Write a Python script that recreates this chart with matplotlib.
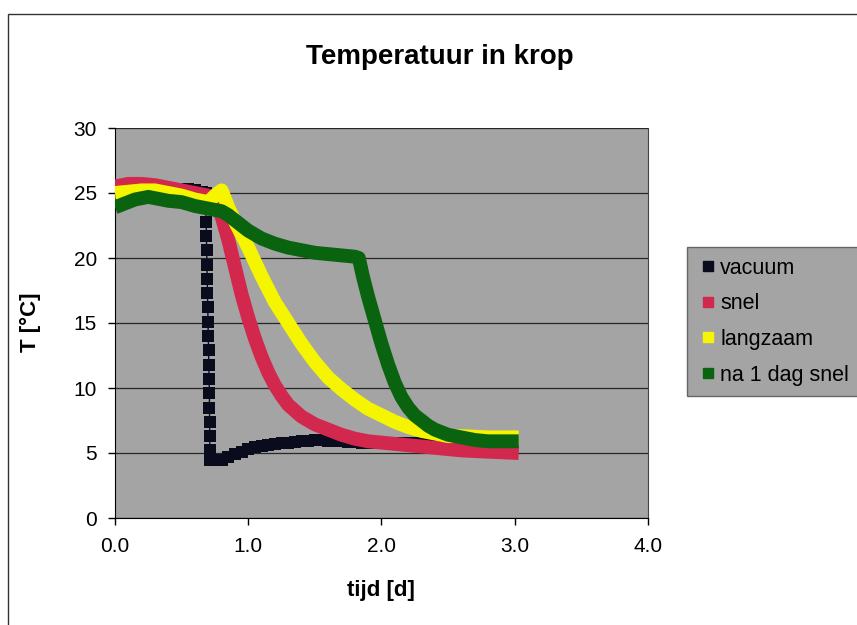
import matplotlib
matplotlib.use("Agg")
import matplotlib.pyplot as plt
from matplotlib.patches import Rectangle
from matplotlib.lines import Line2D

plt.rcParams['font.family'] = ['Liberation Sans', 'DejaVu Sans']

# tijd [d] en temperatuur [C] per behandeling
vac_t = [0.0, 0.05, 0.1, 0.15, 0.2, 0.25, 0.3, 0.35, 0.4, 0.45, 0.5, 0.55,
         0.6, 0.65, 0.68, 0.682, 0.684, 0.686, 0.688, 0.69, 0.692, 0.694,
         0.696, 0.698, 0.7, 0.702, 0.704, 0.706, 0.708, 0.709, 0.71, 0.711,
         0.712, 0.713, 0.75, 0.8, 0.85, 0.9, 0.95, 1.0, 1.05, 1.1, 1.15, 1.2,
         1.25, 1.3, 1.35, 1.4, 1.45, 1.5, 1.55, 1.6, 1.65, 1.7, 1.75, 1.8,
         1.85, 1.9, 1.95, 2.0, 2.05, 2.1, 2.15, 2.2, 2.25, 2.3, 2.35, 2.4,
         2.45, 2.5]
vac_T = [24.5, 25.0, 25.3, 25.4, 25.4, 25.4, 25.4, 25.3, 25.3, 25.2, 25.2,
         25.3, 25.2, 25.1, 25.0, 23.9, 22.8, 21.7, 20.6, 19.5, 18.4, 17.3,
         16.2, 15.1, 14.0, 12.9, 11.8, 10.7, 9.6, 8.5, 7.4, 6.3, 5.2, 4.5,
         4.5, 4.5, 4.7, 4.9, 5.1, 5.3, 5.45, 5.55, 5.65, 5.7, 5.75, 5.8,
         5.85, 5.9, 5.95, 6.0, 6.0, 5.95, 5.9, 5.9, 5.85, 5.85, 5.8, 5.8,
         5.8, 5.8, 5.8, 5.8, 5.8, 5.8, 5.8, 5.8, 5.75, 5.75, 5.7, 5.7]

snel_t = [0.0, 0.1, 0.2, 0.3, 0.4, 0.5, 0.6, 0.7, 0.75, 0.8, 0.85, 0.9, 0.95,
          1.0, 1.05, 1.1, 1.15, 1.2, 1.25, 1.3, 1.4, 1.5, 1.6, 1.7, 1.8,
          1.9, 2.0, 2.2, 2.4, 2.6, 2.8, 3.03]
snel_T = [25.5, 25.7, 25.7, 25.6, 25.4, 25.2, 25.0, 24.8, 24.3, 23.2, 21.4,
          19.3, 17.2, 15.4, 13.8, 12.4, 11.2, 10.2, 9.4, 8.7, 7.8, 7.2, 6.8,
          6.4, 6.1, 5.9, 5.8, 5.6, 5.4, 5.2, 5.1, 5.0]

lang_t = [0.0, 0.1, 0.2, 0.3, 0.4, 0.5, 0.6, 0.7, 0.75, 0.8, 0.85, 0.9, 0.95,
          1.0, 1.05, 1.1, 1.15, 1.2, 1.25, 1.3, 1.35, 1.4, 1.5, 1.6, 1.7,
          1.8, 1.9, 2.0, 2.1, 2.2, 2.3, 2.4, 2.5, 2.6, 2.8, 3.03]
lang_T = [25.0, 25.1, 25.2, 25.2, 25.0, 24.8, 24.5, 24.3, 24.8, 25.2, 23.9,
          22.8, 21.8, 20.8, 19.7, 18.6, 17.6, 16.6, 15.8, 15.0, 14.2, 13.4,
          12.0, 10.8, 9.9, 9.1, 8.4, 7.9, 7.4, 7.0, 6.7, 6.5, 6.3, 6.3, 6.2,
          6.2]

dag_t = [0.0, 0.05, 0.1, 0.15, 0.2, 0.25, 0.3, 0.4, 0.5, 0.6, 0.7, 0.75, 0.8,
         0.85, 0.9, 0.95, 1.0, 1.1, 1.2, 1.3, 1.4, 1.5, 1.6, 1.7, 1.8, 1.83,
         1.86, 1.9, 1.95, 2.0, 2.05, 2.1, 2.15, 2.2, 2.25, 2.3, 2.35, 2.4,
         2.5, 2.6, 2.7, 2.8, 2.9, 3.03]
dag_T = [23.9, 24.1, 24.3, 24.5, 24.6, 24.7, 24.6, 24.4, 24.3, 24.0, 23.8,
         23.7, 23.6, 23.3, 22.9, 22.5, 22.1, 21.5, 21.1, 20.8, 20.6, 20.4,
         20.3, 20.2, 20.1, 20.0, 18.6, 17.0, 15.2, 13.4, 11.8, 10.4, 9.3,
         8.5, 7.9, 7.5, 7.1, 6.8, 6.4, 6.2, 6.0, 5.9, 5.9, 5.9]

labels = ['vacuum', 'snel', 'langzaam', 'na 1 dag snel']
colors = ['#0b0b1e', '#d2284e', '#f5f500', '#0a640f']

fig = plt.figure(figsize=(8.57, 6.25), dpi=100)
fig.patch.set_facecolor('white')
fig.patches.append(Rectangle((0.009, -0.02), 1.0, 0.998, transform=fig.transFigure,
                             fill=False, edgecolor='#333333', linewidth=1.0))

ax = fig.add_axes([0.1342, 0.1712, 0.6219, 0.624])
ax.set_facecolor('#a4a4a4')

ax.plot(vac_t, vac_T, color=colors[0], lw=1, marker='s', ms=8, mew=0,
        zorder=3)
ax.plot(snel_t, snel_T, color=colors[1], lw=10, solid_capstyle='butt',
        solid_joinstyle='round', zorder=4)
ax.plot(lang_t, lang_T, color=colors[2], lw=10, solid_capstyle='butt',
        solid_joinstyle='round', zorder=5)
ax.plot(dag_t, dag_T, color=colors[3], lw=10, solid_capstyle='butt',
        solid_joinstyle='round', zorder=6)

ax.set_xlim(0, 4)
ax.set_ylim(0, 30)
ax.set_xticks([0, 1, 2, 3, 4])
ax.set_xticklabels(['0.0', '1.0', '2.0', '3.0', '4.0'])
ax.set_yticks(range(0, 31, 5))
ax.yaxis.grid(True, color='#262626', lw=0.9)
ax.set_axisbelow(True)
ax.tick_params(labelsize=15, length=5, width=1, direction='out')
ax.tick_params(axis='y', pad=8)
ax.tick_params(axis='x', pad=9)

ax.spines['top'].set_visible(False)
ax.spines['right'].set_color('#444444')
ax.spines['left'].set_color('black')
ax.spines['bottom'].set_color('black')

fig.text(0.444, 0.055, 'tijd [d]', ha='center', va='center',
         fontsize=16, fontweight='bold')
fig.text(0.036, 0.485, 'T [°C]', ha='center', va='center', rotation=90,
         fontsize=16, fontweight='bold')
fig.text(0.513, 0.908, 'Temperatuur in krop', ha='center', va='center',
         fontsize=20, fontweight='bold')

handles = [Line2D([], [], color=c, marker='s', ms=7, ls='none') for c in colors]
leg = fig.legend(handles, labels, loc='upper left', bbox_to_anchor=(0.8016, 0.605),
                 fontsize=15.5, frameon=True, fancybox=False, handletextpad=0.05,
                 handlelength=1.0, labelspacing=0.68, borderpad=0.5,
                 borderaxespad=0)
leg.get_frame().set_facecolor('#a4a4a4')
leg.get_frame().set_edgecolor('#666666')
leg.get_frame().set_alpha(1)

fig.savefig('out.png', dpi=100)
